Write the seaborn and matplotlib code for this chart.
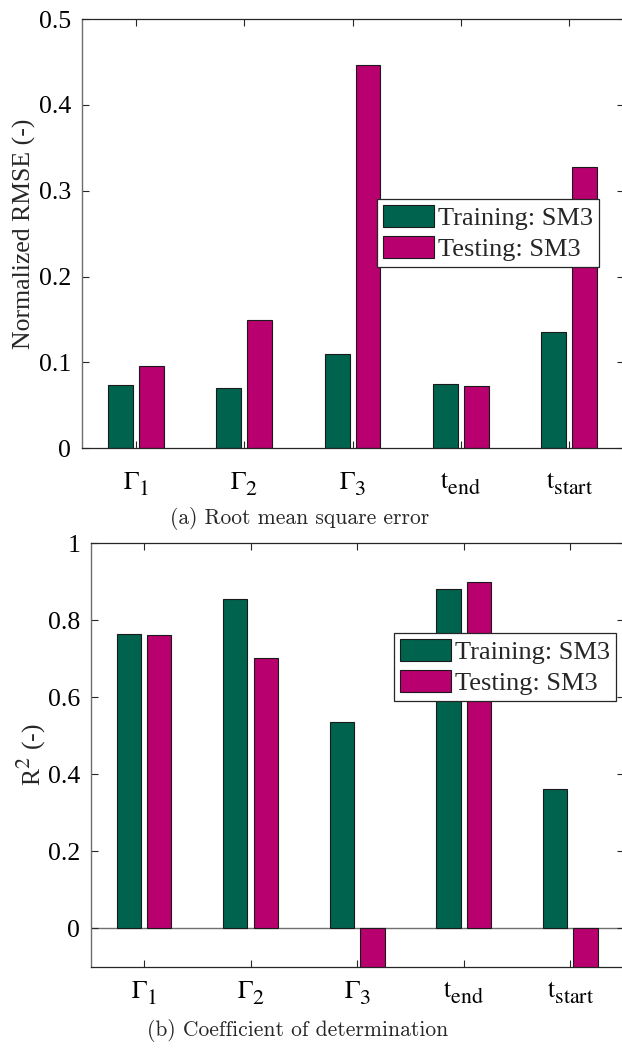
import numpy as np
import pandas as pd
import matplotlib
matplotlib.use("Agg")
import matplotlib.pyplot as plt
import seaborn as sns

try:
    # larger, lower subscripts, closer to TeX-interpreter style labels
    import matplotlib._mathtext as _mt
    _mt.SHRINK_FACTOR = 0.85
    _mt.STIXFontConstants.sub1 = 0.55
except Exception:
    pass

# Target quantities predicted by the surrogate model
categories = ["G1", "G2", "G3", "tend", "tstart"]
tick_labels = [r"$\Gamma_1$", r"$\Gamma_2$", r"$\Gamma_3$",
               r"$\mathrm{t}_{\mathrm{end}}$", r"$\mathrm{t}_{\mathrm{start}}$"]
series = ["Training: SM3", "Testing: SM3"]

# Normalized root mean square error
rmse_train = [0.074, 0.070, 0.110, 0.075, 0.136]
rmse_test = [0.096, 0.149, 0.446, 0.073, 0.328]

# Coefficient of determination
r2_train = [0.765, 0.854, 0.537, 0.881, 0.362]
r2_test = [0.761, 0.702, -0.35, 0.900, -0.25]

colors = ["#00634e", "#b9006f"]

sns.set_theme(style="white")
plt.rcParams["font.family"] = ["Liberation Serif", "DejaVu Serif"]
plt.rcParams["mathtext.fontset"] = "stix"

FS = 18.5
W, H = 622, 1050


def long_frame(train, test):
    return pd.DataFrame({
        "category": categories * 2,
        "series": [series[0]] * len(categories) + [series[1]] * len(categories),
        "value": list(train) + list(test),
    })


def px_axes(fig, left, right, top, bottom):
    return fig.add_axes([left / W, 1 - bottom / H, (right - left) / W, (bottom - top) / H])


def style_axes(ax, ylim, yticks, ylabels, ylabel, label_x, xpad):
    ax.set_xlim(-0.5, 4.5)
    ax.set_ylim(*ylim)
    ax.set_yticks(yticks)
    ax.set_yticklabels(ylabels)
    ax.set_xticks(range(len(categories)))
    ax.set_xticklabels(tick_labels)
    ax.set_xlabel("")
    ax.set_ylabel(ylabel, fontsize=FS)
    ax.yaxis.label.set(va="center", ha="center")
    ax.yaxis.set_label_coords(label_x, 0.5)
    ax.tick_params(axis="both", direction="in", length=5, width=0.8,
                   color="#262626", labelsize=FS, labelcolor="black",
                   top=True, right=True, left=True, bottom=True)
    ax.tick_params(axis="y", pad=7.5)
    ax.tick_params(axis="x", pad=xpad)
    for side in ["top", "right", "bottom"]:
        ax.spines[side].set_color("#262626")
        ax.spines[side].set_linewidth(0.9)
    ax.spines["left"].set_color("#6e6e6e")
    ax.spines["left"].set_linewidth(1.0)
    ax.set_facecolor("white")


def place_legend(ax, x, y):
    sns.move_legend(ax, loc="upper left", bbox_to_anchor=(x / W, 1 - y / H),
                    bbox_transform=ax.figure.transFigure, title=None,
                    frameon=True, fancybox=False, framealpha=1, fontsize=FS + 0.5,
                    borderpad=0.22, borderaxespad=0, handlelength=1.95,
                    handleheight=0.92, handletextpad=0.16, labelspacing=0.22)
    leg = ax.get_legend()
    leg.get_frame().set_edgecolor("#262626")
    leg.get_frame().set_linewidth(0.9)
    for h in leg.legend_handles:
        h.set_edgecolor("#1a1a1a")
        h.set_linewidth(0.8)


fig = plt.figure(figsize=(W / 100, H / 100), dpi=100)
fig.patch.set_facecolor("white")

bar_kws = dict(x="category", y="value", hue="series", hue_order=series,
               palette=colors, width=4 / 7, gap=0.2, edgecolor="#1a1a1a",
               linewidth=0.8, saturation=1, errorbar=None)

# (a) RMSE
ax1 = px_axes(fig, 81.7, 623.5, 19.0, 448.3)
sns.barplot(data=long_frame(rmse_train, rmse_test), ax=ax1, **bar_kws)
style_axes(ax1, (0, 0.5), np.arange(0, 0.51, 0.1),
           ["0", "0.1", "0.2", "0.3", "0.4", "0.5"],
           "Normalized RMSE (-)", (24 - 81.7) / (623.5 - 81.7), 16)
place_legend(ax1, 377, 199)

# (b) R^2
ax2 = px_axes(fig, 90.7, 623.5, 543.3, 966.7)
sns.barplot(data=long_frame(r2_train, r2_test), ax=ax2, **bar_kws)
ax2.axhline(0, color="#707070", lw=1.0, zorder=0.5)
style_axes(ax2, (-0.1, 1.0), np.arange(0, 1.01, 0.2),
           ["0", "0.2", "0.4", "0.6", "0.8", "1"],
           r"R$^2$ (-)", (31 - 90.7) / (623.5 - 90.7), 9.5)
place_legend(ax2, 394, 633)

# Sub-captions
fig.text(300 / W, 1 - 518 / H, "(a) Root mean square error", family="cmr10",
         fontsize=15.5, ha="center", va="center")
fig.text(298 / W, 1 - 1031 / H, "(b) Coefficient of determination", family="cmr10",
         fontsize=15.5, ha="center", va="center")

fig.savefig("out.png", dpi=100, facecolor="white")
